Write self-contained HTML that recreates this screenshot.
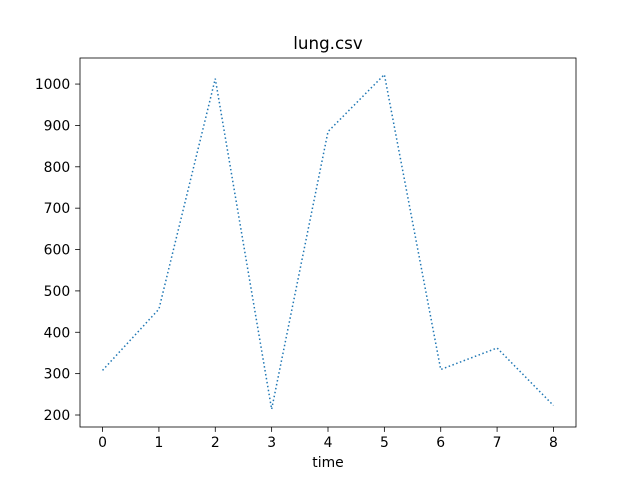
<!DOCTYPE html>
<html><head><meta charset="utf-8"><style>
html,body{margin:0;padding:0;background:#fff;}
svg{display:block;font-family:"DejaVu Sans","Liberation Sans",sans-serif;}
</style></head><body>
<svg id="chart" width="640" height="480" viewBox="0 0 640 480"></svg>
<script>
const categories = [0,1,2,3,4,5,6,7,8];
const seriesValues = [308, 456, 1013, 214, 885, 1023, 310, 362, 223];
const xTickLabels = ["0","1","2","3","4","5","6","7","8"];
const yTickValues = [200,300,400,500,600,700,800,900,1000];

const L=80,R=576,T=58,B=427;
const xMin=-0.4,xMax=8.4,yMin=171,yMax=1063;
const xs=v=>L+(v-xMin)/(xMax-xMin)*(R-L);
const ys=v=>B-(v-yMin)/(yMax-yMin)*(B-T);
const svg=document.getElementById('chart');
const NS='http://www.w3.org/2000/svg';
function mk(tag,attrs,parent){const e=document.createElementNS(NS,tag);for(const k in attrs)e.setAttribute(k,attrs[k]);(parent||svg).appendChild(e);return e;}

const t=mk('text',{x:(L+R)/2,y:49,'text-anchor':'middle','font-size':16.7,fill:'#000'});
t.textContent='lung.csv';



const pts=categories.map((c,i)=>xs(c).toFixed(2)+','+ys(seriesValues[i]).toFixed(2)).join(' ');
const line=mk('polyline',{points:pts,fill:'none',stroke:'#1f77b4','stroke-width':1.5,'stroke-dasharray':'1.5 2.5'});



const frame=mk('rect',{x:L,y:T,width:R-L,height:B-T,fill:'none',stroke:'#000','stroke-width':0.8});



categories.forEach((c,i)=>{
  const x=xs(c);
  const tk=mk('line',{x1:x,x2:x,y1:B,y2:B+4.9,stroke:'#000','stroke-width':0.8});
  
  
  const lb=mk('text',{x:x,y:B+20,'text-anchor':'middle','font-size':13.9,fill:'#000'});
  lb.textContent=xTickLabels[i];
  
  
});
yTickValues.forEach(v=>{
  const y=ys(v);
  const tk=mk('line',{x1:L-4.9,x2:L,y1:y,y2:y,stroke:'#000','stroke-width':0.8});
  
  
  const lb=mk('text',{x:L-9.8,y:y+5,'text-anchor':'end','font-size':13.9,fill:'#000'});
  lb.textContent=String(v);
  
  
});
const xl=mk('text',{x:(L+R)/2,y:467,'text-anchor':'middle','font-size':13.9,fill:'#000'});
xl.textContent='time';


</script>
</body></html>
